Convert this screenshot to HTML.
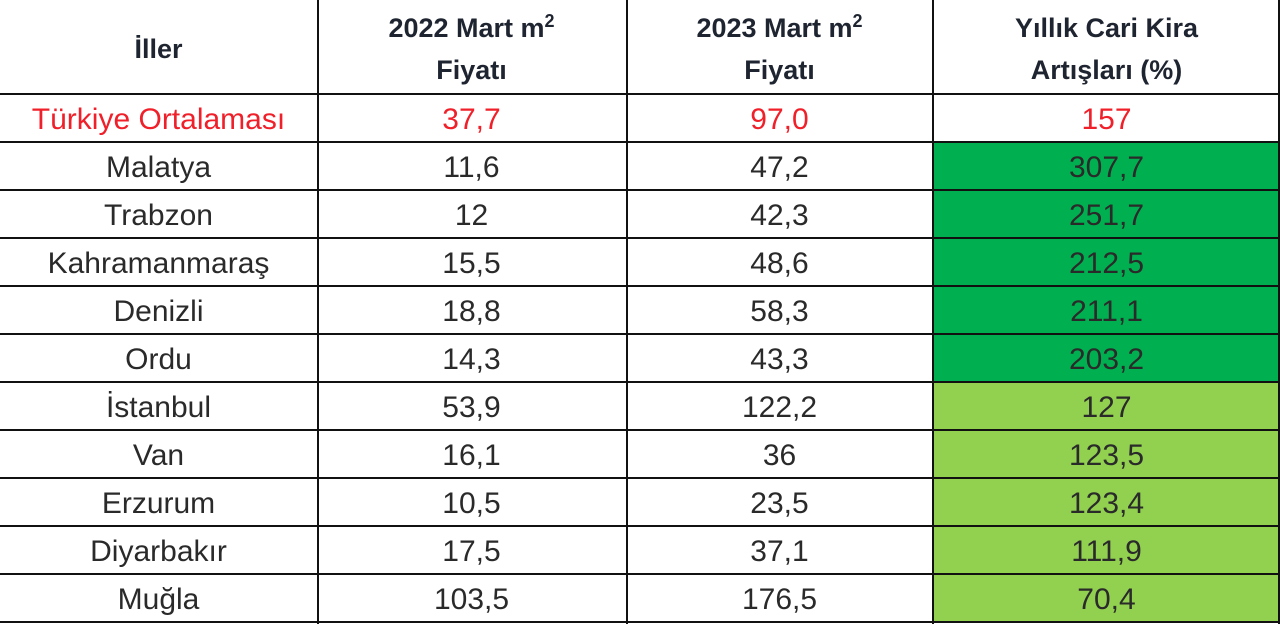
<!DOCTYPE html>
<html><head><meta charset="utf-8"><style>
body{margin:0;width:1280px;height:624px;background:#fff;overflow:hidden;font-family:"Liberation Sans",sans-serif;}
.c{position:absolute;display:flex;align-items:center;justify-content:center;text-align:center;color:#2a2a2a;font-size:30px;box-sizing:border-box;padding-top:3px}
.h{font-weight:bold;font-size:27px;line-height:42px;color:#1e2430;padding-top:4px}
.vl{position:absolute;top:0;width:2px;height:624px;background:#111}
.hl{position:absolute;left:0;width:1280px;height:2px;background:#111}
</style></head><body>
<div id="t"></div>
<script>
const cities=["Türkiye Ortalaması","Malatya","Trabzon","Kahramanmaraş","Denizli","Ordu","İstanbul","Van","Erzurum","Diyarbakır","Muğla"];
const p2022=["37,7","11,6","12","15,5","18,8","14,3","53,9","16,1","10,5","17,5","103,5"];
const p2023=["97,0","47,2","42,3","48,6","58,3","43,3","122,2","36","23,5","37,1","176,5"];
const inc=["157","307,7","251,7","212,5","211,1","203,2","127","123,5","123,4","111,9","70,4"];
const colX=[0,317,626,933,1280];
const t=document.getElementById('t');
function cell(x0,x1,y0,y1,html,cls,bg,color,name){
  const d=document.createElement('div');
  d.className='c '+(cls||'');
  d.style.left=x0+'px';d.style.width=(x1-x0)+'px';d.style.top=y0+'px';d.style.height=(y1-y0)+'px';
  if(bg)d.style.background=bg;
  if(color)d.style.color=color;
  d.innerHTML='<span>'+html+'</span>';
  
  
  t.appendChild(d);
}
const heads=["İller","2022 Mart m<sup style='font-size:18px;line-height:0'>2</sup><br>Fiyatı","2023 Mart m<sup style='font-size:18px;line-height:0'>2</sup><br>Fiyatı","Yıllık Cari Kira<br>Artışları (%)"];
heads.forEach((h,i)=>cell(colX[i],colX[i+1],0,94,h,'h',null,null,'column-header'));
for(let r=0;r<cities.length;r++){
  const y0=94+r*48,y1=y0+48;
  const red=r===0?'#f0202a':null;
  const v=parseFloat(inc[r].replace(',','.'));
  const bg=r===0?null:(v>=200?'#00b050':'#92d050');
  cell(colX[0],colX[1],y0,y1,cities[r],'',null,red,'city-name');
  cell(colX[1],colX[2],y0,y1,p2022[r],'',null,red,'price-2022');
  cell(colX[2],colX[3],y0,y1,p2023[r],'',null,red,'price-2023');
  cell(colX[3],colX[4],y0,y1,inc[r],'',bg,red,'annual-increase');
}
[317,626,932,1278].forEach(x=>{const d=document.createElement('div');d.className='vl';d.style.left=x+'px';


t.appendChild(d);});
for(let r=0;r<=cities.length;r++){const d=document.createElement('div');d.className='hl';d.style.top=(93+r*48)+'px';


t.appendChild(d);}
</script>
</body></html>
